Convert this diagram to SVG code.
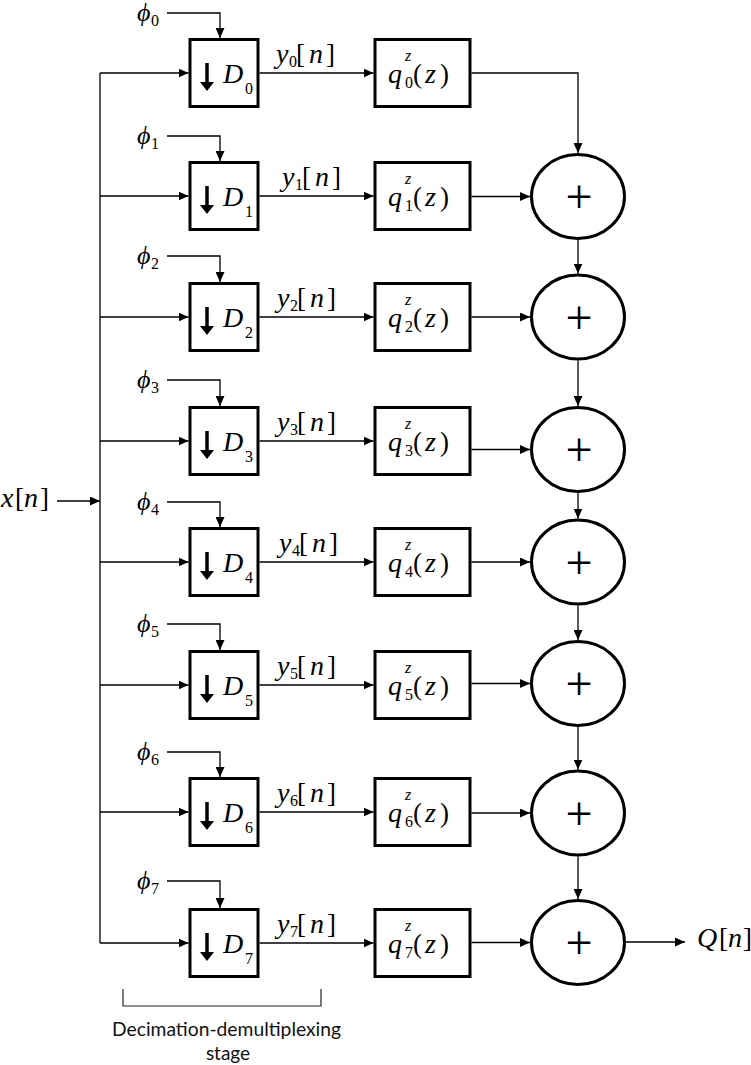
<svg xmlns="http://www.w3.org/2000/svg" width="751" height="1065" viewBox="0 0 751 1065">
<style>
.box{fill:#fff;stroke:#000;stroke-width:3}
.sum{fill:#fff;stroke:#000;stroke-width:3}
.w{fill:none;stroke:#000;stroke-width:1.3}
.wa{fill:none;stroke:#000;stroke-width:1.3;marker-end:url(#ah)}
.dn{stroke:#000;stroke-width:3.5}
.m{font-style:italic;font-size:28px;fill:#000}
.ph{font-style:italic;font-size:26px;fill:#000}
.u{font-size:27px;fill:#000}
.s{font-size:16px;fill:#000}
.si{font-style:italic;font-size:16px;fill:#000}
.pl{font-size:48px;fill:#000;text-anchor:middle}
.cap{font-size:19px;fill:#111}
</style>
<defs>
<marker id="ah" markerUnits="userSpaceOnUse" markerWidth="11" markerHeight="9" refX="10" refY="4.5" orient="auto"><path d="M0,0 L10,4.5 L0,9 z" fill="#000"/></marker>
</defs>
<rect width="751" height="1065" fill="#fff"/>

<g id="connectors">
<line class="w" x1="100" y1="73" x2="100" y2="943"/>
<line class="wa" x1="57" y1="501" x2="100" y2="501"/>
<line class="wa" x1="100" y1="73" x2="188.5" y2="73"/>
<line class="wa" x1="100" y1="196" x2="188.5" y2="196"/>
<line class="wa" x1="100" y1="317" x2="188.5" y2="317"/>
<line class="wa" x1="100" y1="441" x2="188.5" y2="441"/>
<line class="wa" x1="100" y1="562" x2="188.5" y2="562"/>
<line class="wa" x1="100" y1="685" x2="188.5" y2="685"/>
<line class="wa" x1="100" y1="812" x2="188.5" y2="812"/>
<line class="wa" x1="100" y1="943" x2="188.5" y2="943"/>
<polyline class="wa" points="167,13 220,13 220,38"/>
<polyline class="wa" points="167,136 220,136 220,161"/>
<polyline class="wa" points="167,256 220,256 220,282"/>
<polyline class="wa" points="167,380 220,380 220,406"/>
<polyline class="wa" points="167,502 220,502 220,527"/>
<polyline class="wa" points="167,624 220,624 220,650"/>
<polyline class="wa" points="167,752 220,752 220,777"/>
<polyline class="wa" points="167,881 220,881 220,908"/>
<line class="wa" x1="259.5" y1="73" x2="373.5" y2="73"/>
<line class="wa" x1="259.5" y1="196" x2="373.5" y2="196"/>
<line class="wa" x1="259.5" y1="317" x2="373.5" y2="317"/>
<line class="wa" x1="259.5" y1="441" x2="373.5" y2="441"/>
<line class="wa" x1="259.5" y1="562" x2="373.5" y2="562"/>
<line class="wa" x1="259.5" y1="685" x2="373.5" y2="685"/>
<line class="wa" x1="259.5" y1="812" x2="373.5" y2="812"/>
<line class="wa" x1="259.5" y1="943" x2="373.5" y2="943"/>
<polyline class="wa" points="471.5,73 578,73 578,153"/>
<line class="wa" x1="471.5" y1="196.5" x2="530" y2="196.5"/>
<line class="wa" x1="471.5" y1="317" x2="530" y2="317"/>
<line class="wa" x1="471.5" y1="449.5" x2="530" y2="449.5"/>
<line class="wa" x1="471.5" y1="562" x2="530" y2="562"/>
<line class="wa" x1="471.5" y1="683.5" x2="530" y2="683.5"/>
<line class="wa" x1="471.5" y1="813" x2="530" y2="813"/>
<line class="wa" x1="471.5" y1="942.5" x2="530" y2="942.5"/>
<line class="wa" x1="578" y1="240" x2="578" y2="273.5"/>
<line class="wa" x1="578" y1="360.5" x2="578" y2="406"/>
<line class="wa" x1="578" y1="493" x2="578" y2="518.5"/>
<line class="wa" x1="578" y1="605.5" x2="578" y2="640"/>
<line class="wa" x1="578" y1="727" x2="578" y2="769.5"/>
<line class="wa" x1="578" y1="856.5" x2="578" y2="899"/>
<line class="wa" x1="626" y1="942" x2="685" y2="942"/>
<g id="ylabels" font-family="Liberation Serif, Times New Roman, Tinos, DejaVu Serif, serif">
<text class="m" x="276" y="63">y</text><text class="s" x="289" y="67">0</text><text class="u" x="296" y="63">[</text><text class="m" x="309" y="63">n</text><text class="u" x="326" y="63">]</text>
<text class="m" x="282" y="186">y</text><text class="s" x="295" y="190">1</text><text class="u" x="302" y="186">[</text><text class="m" x="315" y="186">n</text><text class="u" x="332" y="186">]</text>
<text class="m" x="277" y="307">y</text><text class="s" x="290" y="311">2</text><text class="u" x="297" y="307">[</text><text class="m" x="310" y="307">n</text><text class="u" x="327" y="307">]</text>
<text class="m" x="277" y="431">y</text><text class="s" x="290" y="435">3</text><text class="u" x="297" y="431">[</text><text class="m" x="310" y="431">n</text><text class="u" x="327" y="431">]</text>
<text class="m" x="279" y="552">y</text><text class="s" x="292" y="556">4</text><text class="u" x="299" y="552">[</text><text class="m" x="312" y="552">n</text><text class="u" x="329" y="552">]</text>
<text class="m" x="277" y="675">y</text><text class="s" x="290" y="679">5</text><text class="u" x="297" y="675">[</text><text class="m" x="310" y="675">n</text><text class="u" x="327" y="675">]</text>
<text class="m" x="277" y="802">y</text><text class="s" x="290" y="806">6</text><text class="u" x="297" y="802">[</text><text class="m" x="310" y="802">n</text><text class="u" x="327" y="802">]</text>
<text class="m" x="277" y="933">y</text><text class="s" x="290" y="937">7</text><text class="u" x="297" y="933">[</text><text class="m" x="310" y="933">n</text><text class="u" x="327" y="933">]</text>
</g>
</g>

<g id="nodes" font-family="Liberation Serif, Times New Roman, Tinos, DejaVu Serif, serif">
<g id="input">
<text class="m" x="1" y="507">x</text><text class="u" x="15" y="507">[</text><text class="m" x="24" y="507">n</text><text class="u" x="40" y="507">]</text>
</g>
<g id="output">
<text class="m" x="697" y="947">Q</text><text class="u" x="719" y="947">[</text><text class="m" x="728" y="947">n</text><text class="u" x="743" y="947">]</text>
</g>

<g id="phi0"><text class="ph" x="137" y="21">ϕ</text><text class="s" x="151" y="26">0</text></g>
<g id="phi1"><text class="ph" x="137" y="144">ϕ</text><text class="s" x="151" y="149">1</text></g>
<g id="phi2"><text class="ph" x="137" y="264">ϕ</text><text class="s" x="151" y="269">2</text></g>
<g id="phi3"><text class="ph" x="137" y="388">ϕ</text><text class="s" x="151" y="393">3</text></g>
<g id="phi4"><text class="ph" x="137" y="510">ϕ</text><text class="s" x="151" y="515">4</text></g>
<g id="phi5"><text class="ph" x="137" y="632">ϕ</text><text class="s" x="151" y="637">5</text></g>
<g id="phi6"><text class="ph" x="137" y="760">ϕ</text><text class="s" x="151" y="765">6</text></g>
<g id="phi7"><text class="ph" x="137" y="889">ϕ</text><text class="s" x="151" y="894">7</text></g>

<g id="D0"><rect class="box" x="190" y="39.5" width="68" height="67"/><line class="dn" x1="207" y1="63" x2="207" y2="83"/><polygon points="200,82 214,82 207,91"/><text class="m" x="223" y="83">D</text><text class="s" x="245" y="94">0</text></g>
<g id="D1"><rect class="box" x="190" y="162.5" width="68" height="67"/><line class="dn" x1="207" y1="186" x2="207" y2="206"/><polygon points="200,205 214,205 207,214"/><text class="m" x="223" y="206">D</text><text class="s" x="245" y="217">1</text></g>
<g id="D2"><rect class="box" x="190" y="283.5" width="68" height="67"/><line class="dn" x1="207" y1="307" x2="207" y2="327"/><polygon points="200,326 214,326 207,335"/><text class="m" x="223" y="327">D</text><text class="s" x="245" y="338">2</text></g>
<g id="D3"><rect class="box" x="190" y="407.5" width="68" height="67"/><line class="dn" x1="207" y1="431" x2="207" y2="451"/><polygon points="200,450 214,450 207,459"/><text class="m" x="223" y="451">D</text><text class="s" x="245" y="462">3</text></g>
<g id="D4"><rect class="box" x="190" y="528.5" width="68" height="67"/><line class="dn" x1="207" y1="552" x2="207" y2="572"/><polygon points="200,571 214,571 207,580"/><text class="m" x="223" y="572">D</text><text class="s" x="245" y="583">4</text></g>
<g id="D5"><rect class="box" x="190" y="651.5" width="68" height="67"/><line class="dn" x1="207" y1="675" x2="207" y2="695"/><polygon points="200,694 214,694 207,703"/><text class="m" x="223" y="695">D</text><text class="s" x="245" y="706">5</text></g>
<g id="D6"><rect class="box" x="190" y="778.5" width="68" height="67"/><line class="dn" x1="207" y1="802" x2="207" y2="822"/><polygon points="200,821 214,821 207,830"/><text class="m" x="223" y="822">D</text><text class="s" x="245" y="833">6</text></g>
<g id="D7"><rect class="box" x="190" y="909.5" width="68" height="67"/><line class="dn" x1="207" y1="933" x2="207" y2="953"/><polygon points="200,952 214,952 207,961"/><text class="m" x="223" y="953">D</text><text class="s" x="245" y="964">7</text></g>

<g id="Q0"><rect class="box" x="375" y="39.5" width="95" height="67"/><text class="m" x="388" y="83">q</text><text class="si" x="405" y="61">z</text><text class="s" x="405" y="88">0</text><text class="u" x="413" y="83">(</text><text class="m" x="425" y="83">z</text><text class="u" x="440" y="83">)</text></g>
<g id="Q1"><rect class="box" x="375" y="162.5" width="95" height="67"/><text class="m" x="388" y="206">q</text><text class="si" x="405" y="184">z</text><text class="s" x="405" y="211">1</text><text class="u" x="413" y="206">(</text><text class="m" x="425" y="206">z</text><text class="u" x="440" y="206">)</text></g>
<g id="Q2"><rect class="box" x="375" y="283.5" width="95" height="67"/><text class="m" x="388" y="327">q</text><text class="si" x="405" y="305">z</text><text class="s" x="405" y="332">2</text><text class="u" x="413" y="327">(</text><text class="m" x="425" y="327">z</text><text class="u" x="440" y="327">)</text></g>
<g id="Q3"><rect class="box" x="375" y="407.5" width="95" height="67"/><text class="m" x="388" y="451">q</text><text class="si" x="405" y="429">z</text><text class="s" x="405" y="456">3</text><text class="u" x="413" y="451">(</text><text class="m" x="425" y="451">z</text><text class="u" x="440" y="451">)</text></g>
<g id="Q4"><rect class="box" x="375" y="528.5" width="95" height="67"/><text class="m" x="388" y="572">q</text><text class="si" x="405" y="550">z</text><text class="s" x="405" y="577">4</text><text class="u" x="413" y="572">(</text><text class="m" x="425" y="572">z</text><text class="u" x="440" y="572">)</text></g>
<g id="Q5"><rect class="box" x="375" y="651.5" width="95" height="67"/><text class="m" x="388" y="695">q</text><text class="si" x="405" y="673">z</text><text class="s" x="405" y="700">5</text><text class="u" x="413" y="695">(</text><text class="m" x="425" y="695">z</text><text class="u" x="440" y="695">)</text></g>
<g id="Q6"><rect class="box" x="375" y="778.5" width="95" height="67"/><text class="m" x="388" y="822">q</text><text class="si" x="405" y="800">z</text><text class="s" x="405" y="827">6</text><text class="u" x="413" y="822">(</text><text class="m" x="425" y="822">z</text><text class="u" x="440" y="822">)</text></g>
<g id="Q7"><rect class="box" x="375" y="909.5" width="95" height="67"/><text class="m" x="388" y="953">q</text><text class="si" x="405" y="931">z</text><text class="s" x="405" y="958">7</text><text class="u" x="413" y="953">(</text><text class="m" x="425" y="953">z</text><text class="u" x="440" y="953">)</text></g>

<g id="S1"><ellipse class="sum" cx="578" cy="196.5" rx="46.5" ry="42"/><text class="pl" x="579" y="213">+</text></g>
<g id="S2"><ellipse class="sum" cx="578" cy="317" rx="46.5" ry="42"/><text class="pl" x="579" y="333.5">+</text></g>
<g id="S3"><ellipse class="sum" cx="578" cy="449.5" rx="46.5" ry="42"/><text class="pl" x="579" y="466">+</text></g>
<g id="S4"><ellipse class="sum" cx="578" cy="562" rx="46.5" ry="42"/><text class="pl" x="579" y="578.5">+</text></g>
<g id="S5"><ellipse class="sum" cx="578" cy="683.5" rx="46.5" ry="42"/><text class="pl" x="579" y="700">+</text></g>
<g id="S6"><ellipse class="sum" cx="578" cy="813" rx="46.5" ry="42"/><text class="pl" x="579" y="829.5">+</text></g>
<g id="S7"><ellipse class="sum" cx="578" cy="942.5" rx="46.5" ry="42"/><text class="pl" x="579" y="959">+</text></g>
</g>

<g id="stage" font-family="Lato, Open Sans, sans-serif">
<polyline fill="none" stroke="#222" stroke-width="1.2" points="123,989 123,1006 321,1006 321,989"/>
<text class="cap" x="112" y="1036" textLength="229" lengthAdjust="spacingAndGlyphs">Decimation-demultiplexing</text>
<text class="cap" x="228" y="1060" text-anchor="middle">stage</text>
</g>
</svg>
